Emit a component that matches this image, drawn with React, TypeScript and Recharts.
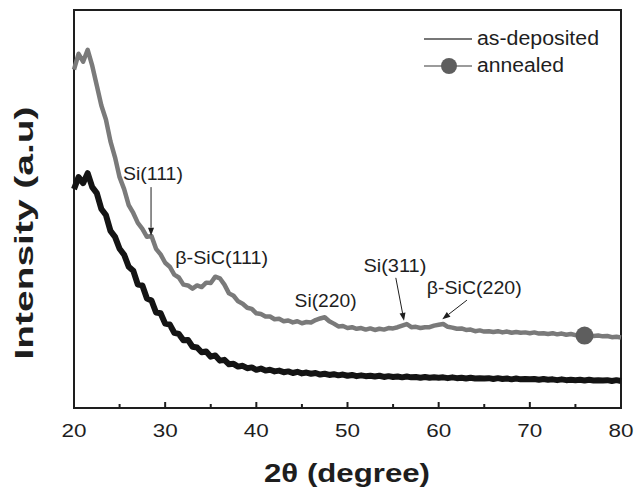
import React from "react";
import {
  Line,
  LineChart,
  ReferenceArea,
  ReferenceDot,
  ReferenceLine,
  XAxis,
  YAxis,
} from "recharts";

const FONT = "'Liberation Sans', Arial, Helvetica, sans-serif";
const INK = "#1e1e1e";
const ANNEALED_COLOR = "#7a7a7a";
const DEPOSITED_COLOR = "#141414";

// 2θ sampling (degree)
const TWO_THETA = [
  20, 20.5, 21, 21.5, 22, 22.5, 23, 23.5, 24, 24.5, 25, 25.5, 26, 26.5, 27, 27.5, 28, 28.5, 29, 29.5,
  30, 30.5, 31, 31.5, 32, 32.5, 33, 33.5, 34, 34.5, 35, 35.5, 36, 36.5, 37, 37.5, 38, 38.5, 39, 39.5,
  40, 40.5, 41, 41.5, 42, 42.5, 43, 43.5, 44, 44.5, 45, 45.5, 46, 46.5, 47, 47.5, 48, 48.5, 49, 49.5,
  50, 50.5, 51, 51.5, 52, 52.5, 53, 53.5, 54, 54.5, 55, 55.5, 56, 56.5, 57, 57.5, 58, 58.5, 59, 59.5,
  60, 60.5, 61, 61.5, 62, 62.5, 63, 63.5, 64, 64.5, 65, 65.5, 66, 66.5, 67, 67.5, 68, 68.5, 69, 69.5,
  70, 70.5, 71, 71.5, 72, 72.5, 73, 73.5, 74, 74.5, 75, 75.5, 76, 76.5, 77, 77.5, 78, 78.5, 79, 79.5,
  80,
];

// annealed film (grey trace), intensity in arbitrary units
const ANNEALED = [
  85, 89, 87, 90, 86, 81, 76, 72.5, 67, 63, 58, 55, 51, 49, 46.5, 45, 43, 43.2, 40, 38.6,
  36.5, 35.5, 33.5, 32.8, 31, 30.8, 30, 30.8, 30.4, 31.5, 31.4, 33, 32.6, 31, 28.8, 28.2, 26.8, 26.2, 25.2, 24.9,
  23.8, 23.6, 23, 23, 22.3, 22.4, 21.8, 22, 21.5, 21.8, 21.3, 21.6, 21.5, 22.1, 22.5, 22.8, 21.8, 21.2, 20.5, 20.6,
  20.1, 20.3, 19.9, 20.1, 19.7, 20, 19.6, 19.9, 19.7, 20.1, 20, 20.3, 20.7, 21.1, 20.3, 20.4, 20.1, 20.3, 20.3, 20.7,
  20.9, 21.1, 20.4, 20.2, 19.9, 20, 19.6, 19.7, 19.3, 19.5, 19.2, 19.3, 19.1, 19.3, 19, 19.2, 18.9, 19.1, 18.9, 19,
  18.8, 19, 18.7, 18.8, 18.6, 18.8, 18.5, 18.7, 18.4, 18.6, 18.3, 18.4, 18.2, 18.3, 18.1, 18.2, 18, 18.1, 17.8, 17.9,
  17.7,
];

// as-deposited film (black trace)
const AS_DEPOSITED = [
  55, 58, 56.5, 59, 55.5, 54, 50, 48.5, 44.5, 43, 40, 38.5, 35.5, 34.5, 31, 30.8, 27.5, 27, 24, 23.8,
  21.2, 21, 18.9, 18.6, 17, 17.1, 15.4, 15.2, 14, 14.2, 12.9, 13.2, 11.9, 12.1, 11, 11.1, 10.4, 10.6, 10, 10.2,
  9.6, 9.9, 9.4, 9.6, 9.2, 9.4, 9, 9.2, 8.8, 9.1, 8.7, 8.9, 8.6, 8.8, 8.4, 8.6, 8.3, 8.5, 8.2, 8.4,
  8.1, 8.3, 8, 8.2, 8, 8.1, 7.9, 8.1, 7.8, 8, 7.8, 7.9, 7.7, 7.9, 7.7, 7.8, 7.6, 7.8, 7.6, 7.7,
  7.6, 7.7, 7.5, 7.7, 7.5, 7.6, 7.4, 7.6, 7.4, 7.5, 7.4, 7.5, 7.3, 7.5, 7.3, 7.4, 7.2, 7.4, 7.2, 7.3,
  7.2, 7.3, 7.1, 7.3, 7.1, 7.2, 7, 7.2, 7, 7.1, 7, 7.1, 6.9, 7.1, 6.9, 7, 6.9, 7, 6.8, 7,
  6.8,
];

const X_TICKS = [20, 25, 30, 35, 40, 45, 50, 55, 60, 65, 70, 75, 80];
const MARKER_X = 76;

// peak labels: [text, x, y, rendered width]
const PEAK_LABELS: [string, number, number, number][] = [
  ["Si(111)", 28.66, 59, 60],
  ["β-SiC(111)", 36.2, 37.9, 93],
  ["Si(220)", 47.6, 27.1, 62],
  ["Si(311)", 55.2, 35.9, 63],
  ["β-SiC(220)", 63.9, 30.4, 95],
];

// arrows: [x1, y1, x2, y2] (tail -> head)
const PEAK_ARROWS: [number, number, number, number][] = [
  [28.45, 55.5, 28.45, 43.3],
  [55.3, 32.7, 56.2, 21.9],
  [63.1, 27.1, 60.4, 22.3],
];

const data = TWO_THETA.map((x, i) => ({
  x,
  annealed: ANNEALED[i],
  deposited: AS_DEPOSITED[i],
}));

function BottomTick(props: any) {
  const { x, y, payload } = props;
  const v = payload.value as number;
  const major = v % 10 === 0;
  return (
    <g>
      <line x1={x} y1={y} x2={x} y2={y - (major ? 6 : 4)} stroke={INK} strokeWidth={2} />
      {major && (
        <text
          x={x}
          y={y + 29}
          textAnchor="middle"
          fontFamily={FONT}
          fontSize={19}
          fill={INK}
          textLength={25}
          lengthAdjust="spacingAndGlyphs"
        >
          {v}
        </text>
      )}
    </g>
  );
}

function Arrow(props: any) {
  const { x1, y1, x2, y2 } = props;
  const a = Math.atan2(y2 - y1, x2 - x1);
  const len = 8;
  const w = 3;
  const bx = x2 - len * Math.cos(a);
  const by = y2 - len * Math.sin(a);
  const px = -Math.sin(a) * w;
  const py = Math.cos(a) * w;
  return (
    <g>
      <line x1={x1} y1={y1} x2={bx} y2={by} stroke={INK} strokeWidth={1} />
      <polygon points={`${x2},${y2} ${bx + px},${by + py} ${bx - px},${by - py}`} fill={INK} />
    </g>
  );
}

function LegendBox() {
  const row = (label: string, color: string, dot: boolean, width: number) => (
    <div style={{ display: "flex", alignItems: "center", height: 27 }}>
      <svg width={52} height={20}>
        <line x1={2} y1={10} x2={50} y2={10} stroke={color} strokeWidth={1.5} />
        {dot && <circle cx={27} cy={10} r={8} fill="#5e5e5e" />}
      </svg>
      <svg width={width + 4} height={24} style={{ marginLeft: 3 }}>
        <text
          x={0}
          y={18}
          fontFamily={FONT}
          fontSize={20}
          fill={INK}
          textLength={width}
          lengthAdjust="spacingAndGlyphs"
        >
          {label}
        </text>
      </svg>
    </div>
  );
  return (
    <div style={{ position: "absolute", left: 422, top: 25 }}>
      {row("as-deposited", "#4a4a4a", false, 122)}
      {row("annealed", ANNEALED_COLOR, true, 87)}
    </div>
  );
}

export default function App() {
  return (
    <div style={{ position: "absolute", left: 0, top: 0, width: 634, height: 492, background: "#fff" }}>
      <LineChart
        width={634}
        height={492}
        data={data}
        margin={{ top: 10, right: 13, bottom: 54, left: 74 }}
      >
        <XAxis
          dataKey="x"
          type="number"
          domain={[20, 80]}
          ticks={X_TICKS}
          interval={0}
          height={30}
          tickSize={0}
          tickMargin={0}
          tick={<BottomTick />}
          axisLine={false}
        />
        <YAxis type="number" domain={[0, 100]} hide />
        <Line
          dataKey="deposited"
          name="as-deposited"
          stroke={DEPOSITED_COLOR}
          strokeWidth={6}
          strokeLinejoin="round"
          dot={false}
          isAnimationActive={false}
        />
        <Line
          dataKey="annealed"
          name="annealed"
          stroke={ANNEALED_COLOR}
          strokeWidth={4.5}
          strokeLinejoin="round"
          isAnimationActive={false}
          dot={(p: any) =>
            p.payload.x === MARKER_X ? (
              <circle key={p.key} cx={p.cx} cy={p.cy} r={9} fill="#5e5e5e" />
            ) : (
              <g key={p.key} />
            )
          }
        />
        <ReferenceArea
          x1={20}
          x2={80}
          y1={0}
          y2={100}
          fill="none"
          fillOpacity={0}
          stroke={INK}
          strokeWidth={2}
        />
        {PEAK_ARROWS.map(([ax1, ay1, ax2, ay2], i) => (
          <ReferenceLine
            key={`arrow-${i}`}
            segment={[
              { x: ax1, y: ay1 },
              { x: ax2, y: ay2 },
            ]}
            shape={(p: any) => <Arrow {...p} />}
          />
        ))}
        {PEAK_LABELS.map(([label, lx, ly, w]) => (
          <ReferenceDot
            key={label}
            x={lx}
            y={ly}
            r={0}
            shape={(p: any) => (
              <text
                x={p.cx}
                y={p.cy}
                textAnchor="middle"
                dominantBaseline="central"
                fontFamily={FONT}
                fontSize={19}
                fill={INK}
                textLength={w}
                lengthAdjust="spacingAndGlyphs"
              >
                {label}
              </text>
            )}
          />
        ))}
      </LineChart>
      <LegendBox />
      <svg
        width={634}
        height={492}
        style={{ position: "absolute", left: 0, top: 0, pointerEvents: "none" }}
      >
        <text
          x={347}
          y={482}
          textAnchor="middle"
          fontFamily={FONT}
          fontWeight="bold"
          fontSize={26}
          fill={INK}
          textLength={166}
          lengthAdjust="spacingAndGlyphs"
        >
          2θ (degree)
        </text>
        <text
          transform="translate(33, 233) rotate(-90)"
          textAnchor="middle"
          fontFamily={FONT}
          fontWeight="bold"
          fontSize={26}
          fill={INK}
          textLength={253}
          lengthAdjust="spacingAndGlyphs"
        >
          Intensity (a.u)
        </text>
      </svg>
    </div>
  );
}
